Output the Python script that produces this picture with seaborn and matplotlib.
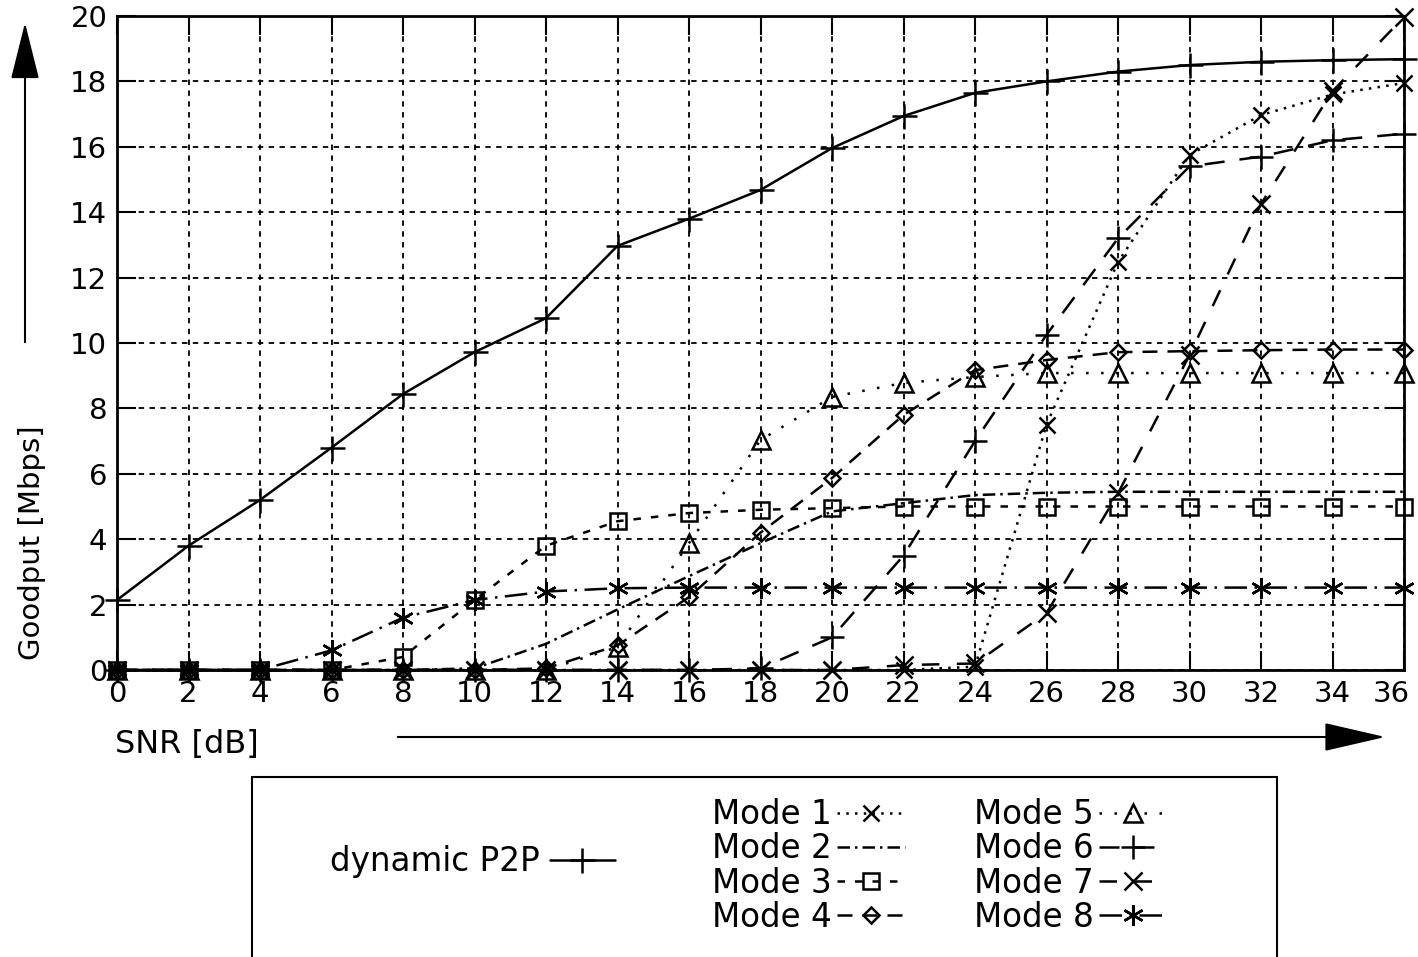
import numpy as np
import pandas as pd
import matplotlib
matplotlib.use('Agg')
import matplotlib.pyplot as plt
import matplotlib.transforms as mtransforms
import seaborn as sns
from matplotlib.patches import Rectangle, FancyArrowPatch

# SNR axis (dB)
snr = [0, 2, 4, 6, 8, 10, 12, 14, 16, 18, 20, 22, 24, 26, 28, 30, 32, 34, 36]

# goodput values [Mbps]
p2p   = [2.14, 3.8, 5.2, 6.8, 8.44, 9.72, 10.76, 12.97, 13.8, 14.68, 15.96, 16.94, 17.65, 18.0, 18.3, 18.5, 18.6, 18.65, 18.68]
mode1 = [0, 0, 0, 0, 0, 0, 0, 0, 0, 0, 0, 0, 0.1, 7.5, 12.48, 15.75, 16.97, 17.6, 17.95]
mode2 = [0, 0, 0, 0, 0, 0.05, 0.8, 1.85, 2.87, 3.88, 4.85, 5.1, 5.35, 5.42, 5.45, 5.45, 5.45, 5.45, 5.45]
mode3 = [0, 0, 0, 0, 0.4, 2.14, 3.8, 4.55, 4.8, 4.9, 4.95, 5.0, 5.0, 5.0, 5.0, 5.0, 5.0, 5.0, 5.0]
mode4 = [0, 0, 0, 0, 0, 0, 0.05, 0.75, 2.23, 4.2, 5.87, 7.8, 9.17, 9.48, 9.72, 9.75, 9.78, 9.8, 9.8]
mode5 = [0, 0, 0, 0, 0, 0, 0, 0.7, 3.88, 7.03, 8.35, 8.78, 8.96, 9.08, 9.08, 9.08, 9.08, 9.08, 9.08]
mode6 = [0, 0, 0, 0, 0, 0, 0, 0, 0, 0.05, 1.0, 3.5, 7.0, 10.25, 13.2, 15.4, 15.7, 16.2, 16.4]
mode7 = [0, 0, 0, 0, 0, 0, 0, 0, 0, 0, 0, 0.15, 0.2, 1.74, 5.4, 9.63, 14.25, 17.7, 19.97]
mode8 = [0, 0, 0, 0.6, 1.6, 2.14, 2.4, 2.5, 2.52, 2.52, 2.52, 2.52, 2.52, 2.52, 2.52, 2.52, 2.52, 2.52, 2.52]

sns.set_style('ticks')
plt.rcParams['font.family'] = ['DejaVu Sans']
plt.rcParams['text.color'] = 'black'

fig = plt.figure(figsize=(14.18, 9.57), dpi=100)
ax = fig.add_axes([117/1418, 1-670/957, (1404-117)/1418, (670-16)/957])

asterisk = (6, 2, 0)
series = [
    ('dynamic P2P', p2p,  '-',                '+',      18, 'k'),
    ('Mode 1',      mode1, (0, (1, 2.5)),     'x',      12, 'k'),
    ('Mode 2',      mode2, (0, (5, 2, 1, 2)), '',       0,  'k'),
    ('Mode 3',      mode3, (0, (3, 4)),       's',      12, 'none'),
    ('Mode 4',      mode4, (0, (6, 4)),       'D',      8,  'none'),
    ('Mode 5',      mode5, (0, (1, 5)),       '^',      13, 'none'),
    ('Mode 6',      mode6, (0, (8, 6)),       '+',      17, 'k'),
    ('Mode 7',      mode7, (0, (7, 7)),       'x',      13, 'k'),
    ('Mode 8',      mode8, (0, (9, 3, 1, 3)), asterisk, 15, 'k'),
]

handles = []
for name, vals, ls, mk, ms, fc in series:
    df = pd.DataFrame({'snr': snr, 'goodput': vals})
    sns.lineplot(data=df, x='snr', y='goodput', ax=ax, color='black',
                 linestyle=ls, linewidth=1.8, marker=mk if mk else None,
                 markersize=ms, markeredgecolor='black', markerfacecolor=fc,
                 markeredgewidth=1.8, clip_on=False, label=name)
    handles.append(ax.lines[-1])
if ax.get_legend() is not None:
    ax.get_legend().remove()

ax.set_xlim(0, 36)
ax.set_ylim(0, 20)
ax.set_xticks(range(0, 37, 2))
ax.set_yticks(range(0, 21, 2))
ax.set_xlabel('')
ax.set_ylabel('')
ax.grid(True, color='black', linestyle=(0, (3, 3)), linewidth=1.3)
ax.tick_params(direction='in', length=14, width=1.5, top=True, right=True,
               labelsize=21, pad=7, colors='black')
for sp in ax.spines.values():
    sp.set_linewidth(2)
    sp.set_color('black')

# last x label sits a bit left so it stays inside the picture
lab = ax.get_xticklabels()[-1]
lab.set_transform(lab.get_transform() + mtransforms.ScaledTranslation(-0.13, 0, fig.dpi_scale_trans))

# axis captions and arrows
fig.text(115/1418, 1-745/957, 'SNR [dB]', fontsize=23, ha='left', va='center')
fig.text(32/1418, 1-543/957, 'Goodput [Mbps]', fontsize=21, rotation=90,
         ha='center', va='center')
fig.add_artist(FancyArrowPatch(
    (395/1418, 1-737/957), (1388/1418, 1-737/957), transform=fig.transFigure,
    arrowstyle='-|>,head_length=1.3,head_width=0.3', mutation_scale=30,
    color='black', lw=1.5))
fig.add_artist(FancyArrowPatch(
    (25/1418, 1-345/957), (25/1418, 1-20/957), transform=fig.transFigure,
    arrowstyle='-|>,head_length=1.2,head_width=0.3', mutation_scale=30,
    color='black', lw=1.5))

# legend box
fig.patches.append(Rectangle((252/1418, -0.05), (1277-252)/1418, 0.05 + 1-777/957,
                             transform=fig.transFigure, fill=False,
                             edgecolor='black', lw=1.5))

fig.legend(handles=handles[:1], labels=['dynamic P2P'], loc='center left',
           bbox_to_anchor=(330/1418, 1-862/957), frameon=False, markerfirst=False,
           fontsize=23.5, handlelength=2.0, handletextpad=0.3, borderpad=0,
           borderaxespad=0)
fig.legend(handles=handles[1:], labels=[s[0] for s in series[1:]], ncol=2,
           loc='upper left', bbox_to_anchor=(712/1418, 1-798/957), frameon=False,
           markerfirst=False, fontsize=23.5, handlelength=2.1, handletextpad=0.15,
           columnspacing=2.1, labelspacing=0.04, borderpad=0, borderaxespad=0)

fig.savefig('out.png', dpi=100)
